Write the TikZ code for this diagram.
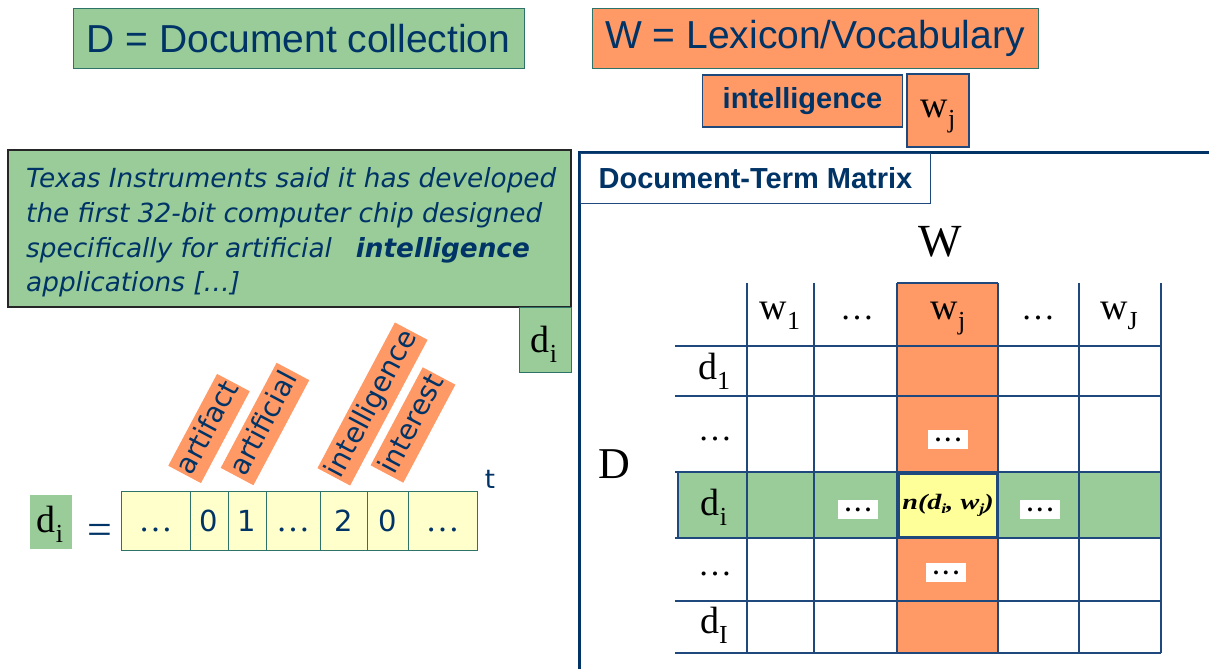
\documentclass[tikz,border=0pt]{standalone}
\usepackage{fontspec}
\setmainfont{Liberation Serif}
\newfontfamily\arialf{Liberation Sans}
\newfontfamily\verdf{DejaVu Sans}
\definecolor{grn}{HTML}{99CC99}
\definecolor{org}{HTML}{FF9966}
\definecolor{lyel}{HTML}{FFFFCC}
\definecolor{yel}{HTML}{FFFF99}
\definecolor{dblue}{HTML}{003366}
\definecolor{tealb}{HTML}{2E7367}
\definecolor{gridb}{HTML}{1F497D}
\newcommand\lbl[2]{{\fontsize{38}{38}\selectfont #1\raisebox{-10pt}{\fontsize{26}{26}\selectfont #2}}}
\newcommand\bdots{{\fontsize{24}{24}\selectfont\bfseries .\hspace{4pt}.\hspace{4pt}.}}
\newcommand\celldots{{\rmfamily\fontsize{34}{34}\selectfont …}}
\begin{document}
\begin{tikzpicture}[x=1pt,y=-1pt,
  tbox/.style={draw=tealb, line width=1pt, inner sep=0, text=dblue, font=\arialf\fontsize{39}{39}\selectfont},
  ibox/.style={draw=gridb, line width=1.2pt, fill=org, inner sep=0, text=dblue},
  ptext/.style={anchor=base west, inner sep=0, text=dblue, font=\verdf\itshape\fontsize{26.3}{26.3}\selectfont},
  cell/.style={draw=tealb, line width=1pt, fill=lyel, inner sep=0, minimum height=59, text height=22, text depth=0, text=dblue, font=\verdf\fontsize{29}{29}\selectfont},
  rot/.style={fill=org, rotate=62, minimum height=37, inner sep=0, text=dblue, text height=21, text depth=6, font=\verdf\fontsize{28}{28}\selectfont},
  grid/.style={draw=gridb, line width=1.6pt},
  wdots/.style={fill=white, minimum width=40, minimum height=19, inner sep=0},
  lab/.style={anchor=base, inner sep=0}
]
\useasboundingbox (0,0) rectangle (1209,669);
% top titles
\node[tbox, fill=grn, minimum width=451, minimum height=59] (dcol) at (298.5,38.5) {D = Document collection};
\node[tbox, fill=org, minimum width=446, minimum height=59] (wlex) at (815,38.5) {W = Lexicon/Vocabulary};
\node[ibox, minimum width=200, minimum height=52, font=\arialf\bfseries\fontsize{29}{29}\selectfont] (intel) at (802.5,101) {intelligence};
\node[ibox, minimum width=62, minimum height=73] (wjbox) at (938,110.5) {};
\node[lab] (wjlab) at (938,117) {\lbl{w}{j}};
% text box
\node[draw=black!85, fill=grn, line width=1.2pt, minimum width=563, minimum height=157, inner sep=0] (txt) at (289.5,228.5) {};
\node[ptext] (p1) at (26,187) {Texas Instruments said it has developed};
\node[ptext] (p2) at (26,222) {the first 32-bit computer chip designed};
\node[ptext] (p3) at (26,257) {specifically for artificial\hspace{24pt}\bfseries intelligence};
\node[ptext] (p4) at (26,291) {applications [\dots]};
\node[draw=tealb, line width=1pt, fill=grn, minimum width=52, minimum height=65, inner sep=0] (dibox) at (545,339.5) {};
\node[lab] (dilab) at (544,352) {\lbl{d}{i}};
% rotated terms
\node[rot, minimum width=104] (tart) at (209,428.5) {artifact};
\node[rot, minimum width=119] (tartl) at (265,424) {artificial};
\node[rot, minimum width=165] (tint) at (372.5,404) {intelligence};
\node[rot, minimum width=111] (tintr) at (413,425) {interest};
% vector
\node[fill=grn, minimum width=42, minimum height=54, inner sep=0] (dvec) at (51,522) {};
\node[lab] (dveclab) at (50,532) {\lbl{d}{i}};
\node[lab, text=dblue, font=\fontsize{44}{44}\selectfont] (eq) at (99.5,544) {=};
\node[cell, minimum width=69] (c1) at (155.5,520.5) {\celldots};
\node[cell, minimum width=38] (c2) at (209,520.5) {0};
\node[cell, minimum width=38] (c3) at (247,520.5) {1};
\node[cell, minimum width=54] (c4) at (293,520.5) {\celldots};
\node[cell, minimum width=47] (c5) at (343.5,520.5) {2};
\node[cell, minimum width=41] (c6) at (387.5,520.5) {0};
\node[cell, minimum width=69] (c7) at (442.5,520.5) {\celldots};
\node[text=dblue, font=\verdf\fontsize{26}{26}\selectfont, inner sep=0] (tsup) at (490,479) {t};
% matrix panel
\draw[dblue, line width=3pt] (579,669) -- (579,152) -- (1209,152);
\node[draw=gridb, line width=1pt, fill=white, minimum width=350, minimum height=50, inner sep=0, text=dblue, font=\arialf\bfseries\fontsize{29}{29}\selectfont] (dtm) at (755.5,178) {Document-Term Matrix};
\node[inner sep=0, font=\fontsize{46}{46}\selectfont] (bigW) at (940,242) {W};
\node[inner sep=0, font=\fontsize{44}{44}\selectfont] (bigD) at (614,464) {D};
% matrix fills
\fill[org] (897,283) rectangle (998,653);
\fill[grn] (678,472) rectangle (1161,538);
% grid
\foreach \yy in {346,396,472,538,601,653} \draw[grid] (675,\yy) -- (1161,\yy);
\foreach \xx in {747,814,897,998,1079,1161} \draw[grid] (\xx,283) -- (\xx,653);
\draw[grid] (897,283) -- (998,283);
\draw[grid] (678,472) -- (678,538);
\node[draw=gridb, line width=1.6pt, fill=yel, minimum width=98, minimum height=63, inner sep=0] (nij) at (948,505.5) {\scalebox{1.28}[1]{\fontsize{22}{22}\selectfont\bfseries\itshape n(d\raisebox{-4pt}{\fontsize{14}{14}\selectfont i}, w\raisebox{-4pt}{\fontsize{14}{14}\selectfont j})}};
\node[wdots] (e1) at (948,439.5) {\bdots};
\node[wdots] (e2) at (858,509.5) {\bdots};
\node[wdots] (e3) at (1040,509.5) {\bdots};
\node[wdots] (e4) at (946,572.5) {\bdots};
% headers
\node[lab] (h1) at (780,319) {\lbl{w}{1}};
\node[lab, font=\fontsize{34}{34}\selectfont] (h2) at (857,319) {…};
\node[lab] (h3) at (948,319) {\lbl{w}{j}};
\node[lab, font=\fontsize{34}{34}\selectfont] (h4) at (1038,319) {…};
\node[lab] (h5) at (1119,319) {\lbl{w}{J}};
% row labels
\node[lab] (r1) at (714,379) {\lbl{d}{1}};
\node[lab, font=\fontsize{34}{34}\selectfont] (r2) at (715,440) {…};
\node[lab] (r3) at (714,515) {\lbl{d}{i}};
\node[lab, font=\fontsize{34}{34}\selectfont] (r4) at (715,575) {…};
\node[lab] (r5) at (714,633) {\lbl{d}{I}};
\end{tikzpicture}
\end{document}
